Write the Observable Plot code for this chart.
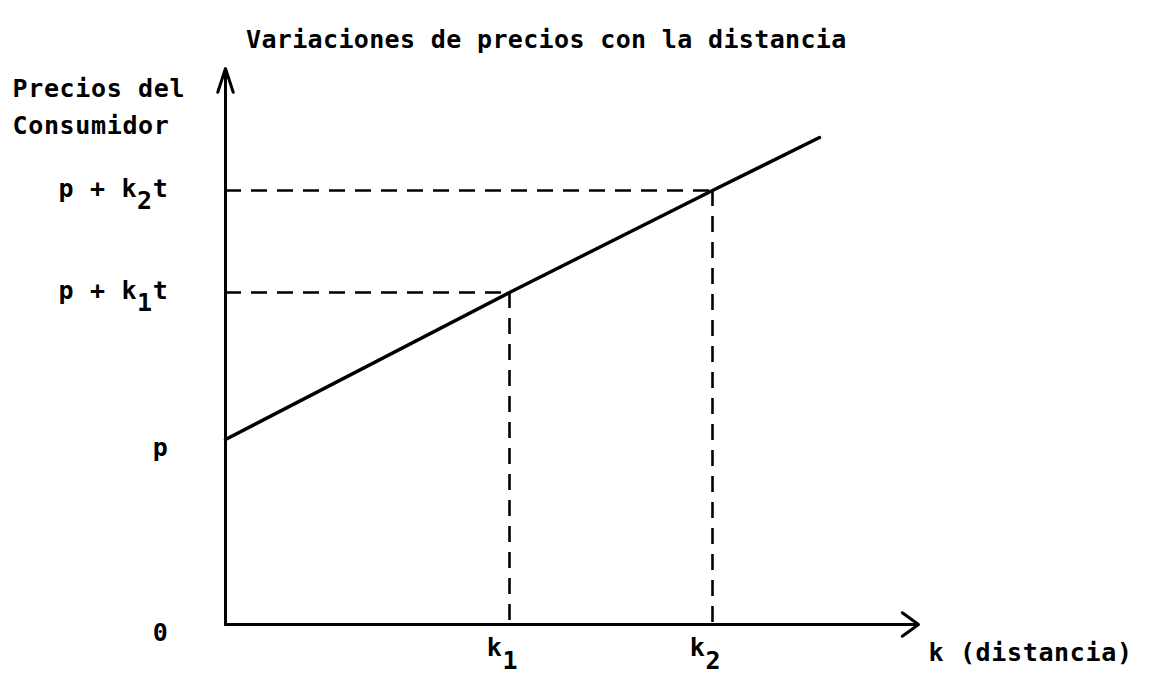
<!DOCTYPE html>
<html>
<head>
<meta charset="utf-8">
<script src="https://cdn.jsdelivr.net/npm/d3@7"></script>
<script src="https://cdn.jsdelivr.net/npm/@observablehq/plot@0.6"></script>
<style>
  body { margin: 0; background: #fff; }
  #title {
    height: 60px; box-sizing: border-box; padding: 27px 0 0 246px;
    font: bold 25px "DejaVu Sans Mono", monospace; letter-spacing: 0.35px;
    line-height: 1; color: #000; white-space: pre;
  }
</style>
</head>
<body>
<div id="title">Variaciones de precios con la distancia</div>
<div id="chart"></div>
<script>
// Consumer price rising with distance: p at the origin, p + k·t further out
const distance = [0, 2.84, 4.87, 5.94];
const price = [1.85, 3.32, 4.34, 4.87];

const markedDistance = [2.84, 4.87];
const markedPrice = [3.32, 4.34];
const xTickLabels = ["k_1", "k_2"];

// Price-axis labels ("_" marks a lowered subscript digit)
const yTickValues = [0, 1.85, 3.32, 4.34];
const yTickLabels = ["0", "p", "p + k_1t", "p + k_2t"];

// Length of the two axis arrows
const distanceMax = 6.93;
const priceMax = 5.56;

const lineData = distance.map((k, i) => ({k, price: price[i]}));
const marked = markedDistance.map((k, i) => ({k, price: markedPrice[i], label: xTickLabels[i]}));
const yLabel = new Map(yTickValues.map((v, i) => [v, yTickLabels[i]]));
const xLabel = new Map(markedDistance.map((v, i) => [v, xTickLabels[i]]));

const dash = {stroke: "#000", strokeWidth: 2.6, strokeDasharray: "16,10"};

const chart = Plot.plot({
  width: 1158,
  height: 614,
  marginTop: 8,
  marginRight: 240,
  marginBottom: 50,
  marginLeft: 225,
  x: {domain: [0, distanceMax], label: null},
  y: {domain: [0, priceMax], label: null},
  style: {
    fontFamily: "'DejaVu Sans Mono', monospace",
    fontSize: "25px",
    fontWeight: "bold",
    letterSpacing: "0.65px",
    color: "#000",
    background: "#fff",
    overflow: "visible"
  },
  marks: [
    // guide lines from each marked point back to the axes
    Plot.ruleY(marked, {y: "price", x1: 0, x2: "k", ...dash}),
    Plot.ruleX(marked, {x: "k", y1: "price", y2: 0, ...dash}),
    // price line
    Plot.line(lineData, {x: "k", y: "price", stroke: "#000", strokeWidth: 3.4}),
    // axes drawn as arrows
    Plot.arrow([0], {x1: 0, y1: 0, x2: 0, y2: priceMax, stroke: "#000", strokeWidth: 3, headAngle: 36, headLength: 12.5}),
    Plot.arrow([0], {x1: 0, y1: 0, x2: distanceMax, y2: 0, stroke: "#000", strokeWidth: 3, headAngle: 72, headLength: 10}),
    // tick labels
    Plot.axisY(yTickValues.slice(2), {tickSize: 0, tickPadding: 57, dy: -2, tickFormat: d => yLabel.get(d), label: null}),
    Plot.axisY(yTickValues.slice(0, 2), {tickSize: 0, tickPadding: 57, dy: 8, tickFormat: d => yLabel.get(d), label: null}),
    Plot.axisX(markedDistance, {tickSize: 0, tickPadding: 14, dx: -7, tickFormat: d => xLabel.get(d), label: null}),
    // axis titles
    Plot.text(["Precios del\nConsumidor"], {frameAnchor: "top-left", textAnchor: "start", lineAnchor: "top", dx: -213, dy: 2, lineHeight: 1.48}),
    Plot.text(["k (distancia)"], {frameAnchor: "bottom-right", textAnchor: "start", lineAnchor: "middle", dx: 10, dy: 28})
  ]
});

// Turn "k_1t" style labels into text with a lowered subscript digit
d3.select(chart).selectAll("text").each(function () {
  const m = this.textContent.match(/^(.*)_(\d)(.*)$/);
  if (!m) return;
  const t = d3.select(this);
  t.text(m[1]);
  t.append("tspan").attr("dy", "0.5em").text(m[2]);
  if (m[3]) t.append("tspan").attr("dy", "-0.5em").text(m[3]);
});

document.getElementById("chart").append(chart);
</script>
</body>
</html>
